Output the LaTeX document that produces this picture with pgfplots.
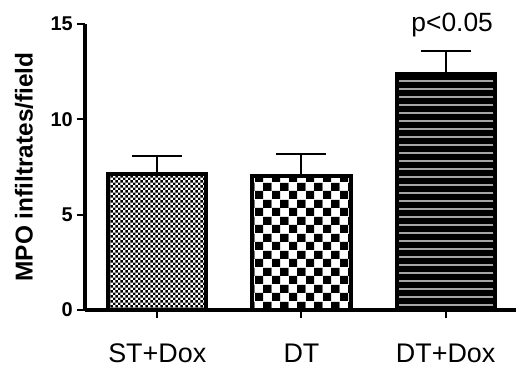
\documentclass[border=0pt]{standalone}
\usepackage{fontspec}
\setmainfont{Liberation Sans}
\usepackage{pgfplots}
\pgfplotsset{compat=1.18}
\usetikzlibrary{patterns,patterns.meta}
\definecolor{linegray}{RGB}{166,166,166}

\tikzdeclarepattern{
  name=finecheck,
  type=colored,
  bottom left={(0,0)},
  top right={(5.4bp,5.4bp)},
  tile size={(5.4bp,5.4bp)},
  code={
    \fill[white] (0,0) rectangle (5.4bp,5.4bp);
    \fill[black] (0,0) rectangle (2.7bp,2.7bp);
    \fill[black] (2.7bp,2.7bp) rectangle (5.4bp,5.4bp);
  }
}
\tikzdeclarepattern{
  name=coarsecheck,
  type=colored,
  bottom left={(0,0)},
  top right={(17bp,17bp)},
  tile size={(17bp,17bp)},
  code={
    \fill[white] (0,0) rectangle (17bp,17bp);
    \fill[black] (0,0) rectangle (8.5bp,8.5bp);
    \fill[black] (8.5bp,8.5bp) rectangle (17bp,17bp);
  }
}

\tikzset{ytl/.style={anchor=east, inner sep=0pt, font=\bfseries\fontsize{20}{21}\selectfont}}

\begin{document}
\begin{tikzpicture}
\path[use as bounding box] (-85bp,-59bp) rectangle (431bp,310bp);
\begin{axis}[
  scale only axis,
  width=431bp, height=286bp,
  xmin=-0.501, xmax=2.4875,
  ymin=0, ymax=15,
  clip=false,
  axis x line=bottom, axis y line=left,
  axis line style={-, line width=4bp, black},
  tick style={line width=2bp, black},
  major tick length=8bp,
  tick align=outside,
  ytick={0,5,10,15},
  yticklabels={},
  xtick={0,1,2},
  xticklabels={ST+Dox, DT, DT+Dox},
  xticklabel style={font=\fontsize{27}{28}\selectfont, yshift=-22bp},
  ylabel={MPO infiltrates/field},
  every axis y label/.style={at={(axis description cs:0,0.5)}, xshift=-61bp, rotate=90, anchor=center, font=\bfseries\fontsize{24.5}{25}\selectfont},
  ybar, bar shift=0pt, bar width=0.68,
  error bars/y dir=plus, error bars/y explicit,
  error bars/error bar style={line width=2bp, black},
  error bars/error mark options={rotate=90, mark size=25bp, line width=2bp, black},
]
\addplot[draw=black, line width=4bp, pattern=finecheck] coordinates {(0,7.15) +- (0,0.91)};
\addplot[draw=black, line width=4bp, pattern=coarsecheck] coordinates {(1,7.05) +- (0,1.13)};
\addplot[draw=black, line width=4bp, fill=black, postaction={pattern={Lines[angle=0,distance=8bp,line width=1.9bp]}, pattern color=linegray}] coordinates {(2,12.4) +- (0,1.18)};
\node[anchor=base, font=\fontsize{26.5}{27}\selectfont] at (axis cs:2.045,14.63) {p<0.05};
\node[ytl] at ([xshift=-12bp]axis cs:-0.501,0) {0};
\node[ytl] at ([xshift=-12bp]axis cs:-0.501,5) {5};
\node[ytl] at ([xshift=-12bp]axis cs:-0.501,10) {10};
\node[ytl] at ([xshift=-12bp]axis cs:-0.501,15) {15};
\end{axis}
\end{tikzpicture}
\end{document}
